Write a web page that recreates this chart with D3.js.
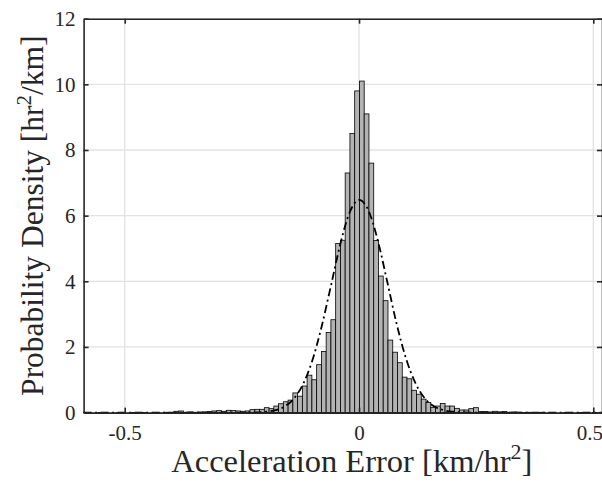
<!DOCTYPE html>
<html>
<head>
<meta charset="utf-8">
<script src="https://cdn.jsdelivr.net/npm/d3@7"></script>
<style>
  html, body { margin: 0; padding: 0; background: #fff; overflow: hidden; }
  svg { display: block; }
  text { font-family: "Liberation Serif", "DejaVu Serif", serif; fill: #262626; }
</style>
</head>
<body>
<div id="chart"></div>
<script>
// histogram bins (density per bin, left to right)
const binStart = -0.5878;
const binWidth = 0.01015;
const density = [
  0.005, 0, 0, 0.005, 0, 0, 0, 0.005, 0, 0,
  0.005, 0, 0.005, 0, 0, 0.005, 0, 0.01, 0.005,
  0.04, 0.05, 0.01, 0.02, 0.01, 0.02, 0.02, 0.03, 0.05, 0.06,
  0.04, 0.07, 0.06, 0.05, 0.04, 0.05, 0.09, 0.1, 0.1, 0.15,
  0.12, 0.2, 0.27, 0.33, 0.38, 0.6, 0.5, 0.81, 1.14, 1.0,
  1.46, 1.86, 2.44, 2.83, 5.15, 5.25, 7.3, 8.5, 9.8,
  10.1, 9.1, 7.6, 5.24, 4.16, 3.41, 2.21, 1.84, 1.52, 1.08,
  1.03, 0.68, 0.56, 0.41, 0.31, 0.16, 0.2, 0.28, 0.2, 0.2,
  0.13, 0.08, 0.08, 0.12, 0.15, 0.03, 0.03, 0.02, 0.04, 0.02,
  0.03, 0.01, 0.02, 0.01, 0.005, 0.01, 0, 0.005, 0.01, 0,
  0.005, 0, 0, 0.005, 0, 0, 0.005, 0, 0, 0.005, 0
];

// fitted normal curve
const fitX = [-0.5878, -0.3, -0.25, -0.22, -0.2, -0.18, -0.16, -0.14, -0.12, -0.1, -0.08, -0.06, -0.04, -0.02,
  0, 0.02, 0.04, 0.06, 0.08, 0.1, 0.12, 0.14, 0.16, 0.18, 0.2, 0.22, 0.25, 0.3, 0.5389];
const fitY = [0, 0, 0.001, 0.007, 0.024, 0.068, 0.177, 0.41, 0.85, 1.57, 2.61, 3.86, 5.13, 6.1,
  6.48, 6.16, 5.25, 4.0, 2.72, 1.66, 0.91, 0.44, 0.19, 0.076, 0.027, 0.008, 0.001, 0, 0];

const xTicks = [-0.5, 0, 0.5];
const xTickLabels = ['-0.5', '0', '0.5'];
const yTicks = [0, 2, 4, 6, 8, 10, 12];

const width = 602;
const height = 485;
const margin = {top: 18.7, right: 0, bottom: 72.4, left: 83.6};

const svg = d3.select('#chart')
  .append('svg')
  .attr('width', width)
  .attr('height', height);

const x = d3.scaleLinear()
  .domain([binStart, binStart + density.length * binWidth])
  .range([margin.left, width - margin.right]);

const y = d3.scaleLinear()
  .domain([0, 12])
  .range([height - margin.bottom, margin.top]);

const x0 = x.range()[0], x1 = x.range()[1];
const y0 = y.range()[0], y1 = y.range()[1];

// grid
svg.append('g')
  .selectAll('line')
  .data(xTicks)
  .join('line')
  .attr('x1', d => x(d)).attr('x2', d => x(d))
  .attr('y1', y0).attr('y2', y1)
  .attr('stroke', '#e2e2e2').attr('stroke-width', 1.3);

svg.append('g')
  .selectAll('line')
  .data(yTicks)
  .join('line')
  .attr('x1', x0).attr('x2', x1)
  .attr('y1', d => y(d)).attr('y2', d => y(d))
  .attr('stroke', '#e2e2e2').attr('stroke-width', 1.3);

// bars
svg.append('g')
  .selectAll('rect')
  .data(density)
  .join('rect')
  .attr('x', (d, i) => x(binStart + i * binWidth))
  .attr('width', x(binStart + binWidth) - x(binStart))
  .attr('y', d => y(d))
  .attr('height', d => y(0) - y(d))
  .attr('fill', '#b3b3b3')
  .attr('stroke', '#000')
  .attr('stroke-width', 0.8);

// normal fit
const line = d3.line()
  .x((d, i) => x(fitX[i]))
  .y(d => y(d))
  .curve(d3.curveMonotoneX);

svg.append('path')
  .attr('d', line(fitY))
  .attr('fill', 'none')
  .attr('stroke', '#000')
  .attr('stroke-width', 1.8)
  .attr('stroke-dasharray', '8,3.5,2,3.5');

// axes (box with inward ticks)
const axisColor = '#262626';
svg.append('g')
  .attr('transform', `translate(0,${y0})`)
  .call(d3.axisBottom(x).tickValues(xTicks).tickFormat((d, i) => xTickLabels[i])
    .tickSizeInner(-5).tickSizeOuter(0).tickPadding(12))
  .call(g => {
    g.select('.domain').attr('stroke', axisColor).attr('stroke-width', 1.6);
    g.selectAll('.tick line').attr('stroke', axisColor).attr('stroke-width', 1.6);
    g.selectAll('.tick text').attr('font-size', 21).attr('font-family', null).attr('fill', axisColor)
      .attr('dx', d => d === 0.5 ? -4 : 0);  // keep last label inside the window
  });

svg.append('g')
  .attr('transform', `translate(0,${y1})`)
  .call(d3.axisTop(x).tickValues(xTicks).tickFormat('').tickSizeInner(-5).tickSizeOuter(0))
  .call(g => {
    g.select('.domain').attr('stroke', axisColor).attr('stroke-width', 1.6);
    g.selectAll('.tick line').attr('stroke', axisColor).attr('stroke-width', 1.6);
  });

svg.append('g')
  .attr('transform', `translate(${x0},0)`)
  .call(d3.axisLeft(y).tickValues(yTicks).tickSizeInner(-5).tickSizeOuter(0).tickPadding(8))
  .call(g => {
    g.select('.domain').attr('stroke', axisColor).attr('stroke-width', 1.6);
    g.selectAll('.tick line').attr('stroke', axisColor).attr('stroke-width', 1.6);
    g.selectAll('.tick text').attr('font-size', 21).attr('font-family', null).attr('fill', axisColor);
  });

svg.append('g')
  .attr('transform', `translate(${x1},0)`)
  .call(d3.axisRight(y).tickValues(yTicks).tickFormat('').tickSizeInner(-5).tickSizeOuter(0))
  .call(g => {
    g.select('.domain').attr('stroke', axisColor).attr('stroke-width', 1.6);
    g.selectAll('.tick line').attr('stroke', axisColor).attr('stroke-width', 1.6);
  });

// axis labels
const xLabel = svg.append('text')
  .attr('x', (x0 + x1) / 2 + 9)
  .attr('y', 472)
  .attr('text-anchor', 'middle')
  .attr('font-size', 32.5);
xLabel.append('tspan').text('Acceleration Error [km/hr');
xLabel.append('tspan').attr('font-size', 22).attr('dy', -13).text('2');
xLabel.append('tspan').attr('dy', 13).text(']');

const yLabel = svg.append('text')
  .attr('transform', `translate(43,${(y0 + y1) / 2}) rotate(-90)`)
  .attr('text-anchor', 'middle')
  .attr('font-size', 31.5);
yLabel.append('tspan').text('Probability Density [hr');
yLabel.append('tspan').attr('font-size', 21).attr('dy', -12).text('2');
yLabel.append('tspan').attr('dy', 12).text('/km]');
</script>
</body>
</html>
